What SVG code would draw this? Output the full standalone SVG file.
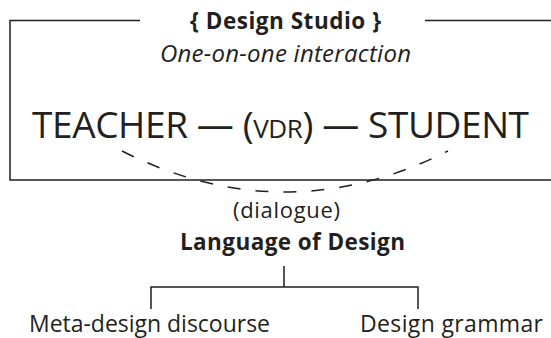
<svg xmlns="http://www.w3.org/2000/svg" width="551" height="338" viewBox="0 0 551 338">
<style>
text{font-family:"Open Sans","Liberation Sans",sans-serif;fill:#231f20}
.b{font-weight:bold}
.ln{fill:none;stroke:#231f20;stroke-width:1.5}
.dash{fill:none;stroke:#231f20;stroke-width:1.5;stroke-dasharray:13 15}
</style>
<g id="connectors">
<path class="ln" d="M140 20.5H10V180H551M425 20.5H551"/>
<path class="dash" d="M122 151Q285 233 448 151"/>
<path class="ln" d="M284 266V287M151 309V287H418V309"/>
</g>
<g id="studio">
<text class="b" x="190" y="29" font-size="22.5" textLength="191" lengthAdjust="spacing">{ Design Studio }</text>
<text x="160" y="62" font-size="24" font-style="italic" textLength="251" lengthAdjust="spacing">One-on-one interaction</text>
</g>
<g id="interaction">
<text x="32" y="138" font-size="37" textLength="497" lengthAdjust="spacing">TEACHER — (<tspan font-size="26">VDR</tspan>) — STUDENT</text>
</g>
<g id="dialogue">
<text x="233" y="218" font-size="22" textLength="107" lengthAdjust="spacing">(dialogue)</text>
</g>
<g id="language">
<text class="b" x="180" y="250" font-size="22.5" textLength="225" lengthAdjust="spacing">Language of Design</text>
</g>
<g id="meta">
<text x="29" y="332" font-size="23" textLength="241" lengthAdjust="spacing">Meta-design discourse</text>
</g>
<g id="grammar">
<text x="360" y="332" font-size="23" textLength="183" lengthAdjust="spacing">Design grammar</text>
</g>
</svg>
